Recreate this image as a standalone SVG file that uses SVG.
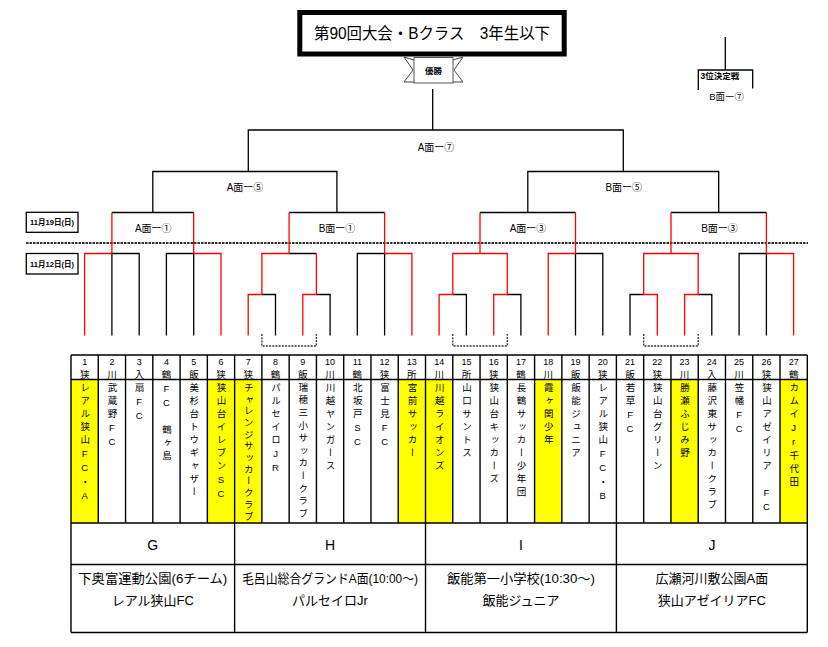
<svg xmlns="http://www.w3.org/2000/svg" width="828" height="647" viewBox="0 0 828 647">
<style>
text{font-family:'Liberation Sans','Noto Sans CJK JP',sans-serif;fill:#000}
.blk{fill:none;stroke:#000;stroke-width:1.3}
.red{fill:none;stroke:#ff0000;stroke-width:1.3}
.dash{fill:none;stroke:#333;stroke-width:1.3;stroke-dasharray:2 1.2}
.grid{fill:none;stroke:#000;stroke-width:1.4}
.lbl{font-size:10px;text-anchor:middle}
.num{font-size:9px;text-anchor:middle}
.dist{font-size:9.5px;text-anchor:middle}
.nm{font-size:9.5px;writing-mode:vertical-rl;text-orientation:upright;letter-spacing:3.5px}
.yel{fill:#ffff00}
.grp{font-size:14px;text-anchor:middle}
.ven{font-size:13px;text-anchor:middle}
</style>
<rect width="828" height="647" fill="#fff"/>

<g id="title">
<rect x="299.8" y="12.5" width="264.4" height="41.5" fill="#fff" stroke="#000" stroke-width="5"/>
<text x="432" y="39.4" font-size="16" text-anchor="middle" textLength="236" lengthAdjust="spacingAndGlyphs">第90回大会・Bクラス　3年生以下</text>
</g>

<g id="winner">
<path d="M404,57 L414,60 M404,57 L413,70 L404,82 L414,82 M463,57 L453,60 M463,57 L454,70 L463,82 L453,82" fill="none" stroke="#444" stroke-width="1"/>
<rect x="414" y="57.5" width="39" height="25.5" fill="#fff" stroke="#555" stroke-width="1"/>
<text x="433.5" y="74" font-size="8.5" font-weight="bold" text-anchor="middle" fill="#333">優勝</text>
</g>

<g id="third-place">
<path class="blk" d="M725.3,37 V70 M698.3,90 V70 H752.7 V88.5"/>
<text x="700.5" y="78.5" font-size="8.5" font-weight="bold">3位決定戦</text>
<text x="726.7" y="99.6" font-size="9.5" text-anchor="middle">B面ー⑦</text>
</g>

<g id="dates">
<rect x="26.3" y="212.3" width="51.7" height="20" fill="#fff" stroke="#000" stroke-width="1.3"/>
<text x="52" y="225" font-size="7.5" font-weight="bold" text-anchor="middle">11月19日(日)</text>
<rect x="26.3" y="253.5" width="51.7" height="20.5" fill="#fff" stroke="#000" stroke-width="1.3"/>
<text x="52" y="266.5" font-size="7.5" font-weight="bold" text-anchor="middle">11月12日(日)</text>
</g>

<g id="connectors">
<path d="M26,243 H808" fill="none" stroke="#333" stroke-width="2.2" stroke-dasharray="2.5 1"/>
<path class="blk" d="M248.3,171.5 V130 H623.3 V171.5 M432.7,130 V89
M152.8,212.5 V171.5 H336.9 V212.5
M527.8,212.5 V171.5 H718.7 V212.5
M111.9,212.5 H193.7 M289.1,212.5 H384.6 M480,212.5 H575.5 M671,212.5 H766.4
M111.9,335.5 V253.5 H139.2 V335.5
M166.4,335.5 V253.5 H193.7 V335.5
M261.9,294.5 H275.5 V335.5 M316.4,294.5 H330.1 V335.5 M289.1,253.5 H316.4
M357.3,335.5 V253.5 H384.6 V335.5
M452.8,294.5 H466.4 V335.5 M507.3,294.5 H520.9 V335.5
M575.5,335.5 V253.5 H602.8 V335.5
M630,335.5 V294.5 H643.7 M698.2,294.5 H711.8 V335.5
M739.1,335.5 V253.5 H766.4 V335.5"/>
<path class="red" d="M111.9,212.5 V253.5 M193.7,212.5 V253.5
M84.6,335.5 V253.5 H111.9
M221,335.5 V253.5 H193.7
M289.1,212.5 V253.5 M384.6,212.5 V253.5
M248.2,335.5 V294.5 H261.9 V253.5 H289.1
M302.8,335.5 V294.5 H316.4 V253.5
M411.9,335.5 V253.5 H384.6
M480,212.5 V253.5 M575.5,212.5 V253.5
M439.1,335.5 V294.5 H452.8 V253.5 H507.3 V294.5 H493.7 V335.5
M548.2,335.5 V253.5 H575.5
M671,212.5 V253.5 M766.4,212.5 V253.5
M657.3,335.5 V294.5 H643.7 V253.5 H698.2 V294.5 H684.6 V335.5
M793.6,335.5 V253.5 H766.4"/>
<path class="dash" d="M261.9,334 V346 H316.4 V334 M452.8,334 V346 H507.3 V334 M643.7,334 V346 H698.2 V334"/>
</g>

<g id="round-labels">
<text class="lbl" x="436" y="150.5">A面ー⑦</text>
<text class="lbl" x="245" y="191">A面ー⑤</text>
<text class="lbl" x="623.8" y="191">B面ー⑤</text>
<text class="lbl" x="153.3" y="232">A面ー①</text>
<text class="lbl" x="337" y="232">B面ー①</text>
<text class="lbl" x="528" y="232">A面ー③</text>
<text class="lbl" x="719.5" y="232">B面ー③</text>
</g>

<g id="teams">
<g id="team-1"><rect class="yel" x="71" y="379.5" width="27.27" height="143.5"/><text class="num" x="84.64" y="365">1</text><text class="dist" x="84.64" y="378">狭</text><text class="nm" x="84.64" y="382.5">レアル狭山FC・A</text></g>
<g id="team-2"><text class="num" x="111.9" y="365">2</text><text class="dist" x="111.9" y="378">川</text><text class="nm" x="111.9" y="382.5">武蔵野FC</text></g>
<g id="team-3"><text class="num" x="139.18" y="365">3</text><text class="dist" x="139.18" y="378">入</text><text class="nm" x="139.18" y="382.5">扇FC</text></g>
<g id="team-4"><text class="num" x="166.45" y="365">4</text><text class="dist" x="166.45" y="378">鶴</text><text class="nm" x="166.45" y="382.5">FC　鶴ヶ島</text></g>
<g id="team-5"><text class="num" x="193.7" y="365">5</text><text class="dist" x="193.7" y="378">飯</text><text class="nm" x="193.7" y="382.5">美杉台トウギャザー</text></g>
<g id="team-6"><rect class="yel" x="207.35" y="379.5" width="27.27" height="143.5"/><text class="num" x="220.99" y="365">6</text><text class="dist" x="220.99" y="378">狭</text><text class="nm" x="220.99" y="382.5">狭山台イレブンSC</text></g>
<g id="team-7"><rect class="yel" x="234.62" y="379.5" width="27.27" height="143.5"/><text class="num" x="248.26" y="365">7</text><text class="dist" x="248.26" y="378">狭</text><text class="nm" x="248.26" y="382.5" style="letter-spacing:2.2px">チャレンジサッカークラブ</text></g>
<g id="team-8"><text class="num" x="275.53" y="365">8</text><text class="dist" x="275.53" y="378">鶴</text><text class="nm" x="275.53" y="382.5">パルセイロJR</text></g>
<g id="team-9"><text class="num" x="302.8" y="365">9</text><text class="dist" x="302.8" y="378">飯</text><text class="nm" x="302.8" y="382.5" style="letter-spacing:3.1px">瑞穂三小サッカークラブ</text></g>
<g id="team-10"><text class="num" x="330.07" y="365">10</text><text class="dist" x="330.07" y="378">川</text><text class="nm" x="330.07" y="382.5">川越ヤンガース</text></g>
<g id="team-11"><text class="num" x="357.34" y="365">11</text><text class="dist" x="357.34" y="378">鶴</text><text class="nm" x="357.34" y="382.5">北坂戸SC</text></g>
<g id="team-12"><text class="num" x="384.6" y="365">12</text><text class="dist" x="384.6" y="378">狭</text><text class="nm" x="384.6" y="382.5">富士見FC</text></g>
<g id="team-13"><rect class="yel" x="398.24" y="379.5" width="27.27" height="143.5"/><text class="num" x="411.88" y="365">13</text><text class="dist" x="411.88" y="378">所</text><text class="nm" x="411.88" y="382.5">宮前サッカー</text></g>
<g id="team-14"><rect class="yel" x="425.51" y="379.5" width="27.27" height="143.5"/><text class="num" x="439.15" y="365">14</text><text class="dist" x="439.15" y="378">川</text><text class="nm" x="439.15" y="382.5">川越ライオンズ</text></g>
<g id="team-15"><text class="num" x="466.42" y="365">15</text><text class="dist" x="466.42" y="378">所</text><text class="nm" x="466.42" y="382.5">山口サントス</text></g>
<g id="team-16"><text class="num" x="493.69" y="365">16</text><text class="dist" x="493.69" y="378">狭</text><text class="nm" x="493.69" y="382.5">狭山台キッカーズ</text></g>
<g id="team-17"><text class="num" x="520.96" y="365">17</text><text class="dist" x="520.96" y="378">鶴</text><text class="nm" x="520.96" y="382.5">長鶴サッカー少年団</text></g>
<g id="team-18"><rect class="yel" x="534.59" y="379.5" width="27.27" height="143.5"/><text class="num" x="548.2" y="365">18</text><text class="dist" x="548.2" y="378">川</text><text class="nm" x="548.2" y="382.5">霞ヶ関少年</text></g>
<g id="team-19"><text class="num" x="575.5" y="365">19</text><text class="dist" x="575.5" y="378">飯</text><text class="nm" x="575.5" y="382.5">飯能ジュニア</text></g>
<g id="team-20"><text class="num" x="602.77" y="365">20</text><text class="dist" x="602.77" y="378">狭</text><text class="nm" x="602.77" y="382.5">レアル狭山FC・B</text></g>
<g id="team-21"><text class="num" x="630.04" y="365">21</text><text class="dist" x="630.04" y="378">飯</text><text class="nm" x="630.04" y="382.5">若草FC</text></g>
<g id="team-22"><text class="num" x="657.31" y="365">22</text><text class="dist" x="657.31" y="378">狭</text><text class="nm" x="657.31" y="382.5">狭山台グリーン</text></g>
<g id="team-23"><rect class="yel" x="670.94" y="379.5" width="27.27" height="143.5"/><text class="num" x="684.58" y="365">23</text><text class="dist" x="684.58" y="378">川</text><text class="nm" x="684.58" y="382.5">勝瀬ふじみ野</text></g>
<g id="team-24"><text class="num" x="711.85" y="365">24</text><text class="dist" x="711.85" y="378">入</text><text class="nm" x="711.85" y="382.5">藤沢東サッカークラブ</text></g>
<g id="team-25"><text class="num" x="739.12" y="365">25</text><text class="dist" x="739.12" y="378">川</text><text class="nm" x="739.12" y="382.5">笠幡FC</text></g>
<g id="team-26"><text class="num" x="766.39" y="365">26</text><text class="dist" x="766.39" y="378">狭</text><text class="nm" x="766.39" y="382.5">狭山アゼイリア　FC</text></g>
<g id="team-27"><rect class="yel" x="780.02" y="379.5" width="27.27" height="143.5"/><text class="num" x="793.66" y="365">27</text><text class="dist" x="793.66" y="378">鶴</text><text class="nm" x="793.66" y="382.5">カムイJr千代田</text></g>
</g>

<g id="table-grid">
<path class="grid" d="M71,355 H807.3 M71,379.5 H807.3 M71,523 H807.3 M71,564.5 H807.3 M71,632.5 H807.3
M71,355 V632.5 M98.27,355 V523 M125.54,355 V523 M152.81,355 V523 M180.08,355 V523 M207.35,355 V523 M234.62,355 V632.5
M261.89,355 V523 M289.16,355 V523 M316.43,355 V523 M343.7,355 V523 M370.97,355 V523 M398.24,355 V523 M425.51,355 V632.5
M452.78,355 V523 M480.05,355 V523 M507.32,355 V523 M534.59,355 V523 M561.86,355 V523 M589.13,355 V523 M616.4,355 V632.5
M643.67,355 V523 M670.94,355 V523 M698.21,355 V523 M725.48,355 V523 M752.75,355 V523 M780.02,355 V523 M807.3,355 V632.5"/>
</g>

<g id="group-G">
<text class="grp" x="152.8" y="550">G</text>
<text class="ven" x="152.8" y="583.4" textLength="149" lengthAdjust="spacingAndGlyphs">下奥富運動公園(6チーム)</text>
<text class="ven" x="152.8" y="605">レアル狭山FC</text>
</g>
<g id="group-H">
<text class="grp" x="330" y="550">H</text>
<text class="ven" x="330" y="583.4" textLength="176" lengthAdjust="spacingAndGlyphs">毛呂山総合グランドA面(10:00～)</text>
<text class="ven" x="330" y="605">パルセイロJr</text>
</g>
<g id="group-I">
<text class="grp" x="521" y="550">I</text>
<text class="ven" x="521" y="583.4" textLength="148" lengthAdjust="spacingAndGlyphs">飯能第一小学校(10:30～)</text>
<text class="ven" x="521" y="605">飯能ジュニア</text>
</g>
<g id="group-J">
<text class="grp" x="711.9" y="550">J</text>
<text class="ven" x="711.9" y="583.4">広瀬河川敷公園A面</text>
<text class="ven" x="711.9" y="605">狭山アゼイリアFC</text>
</g>
</svg>
